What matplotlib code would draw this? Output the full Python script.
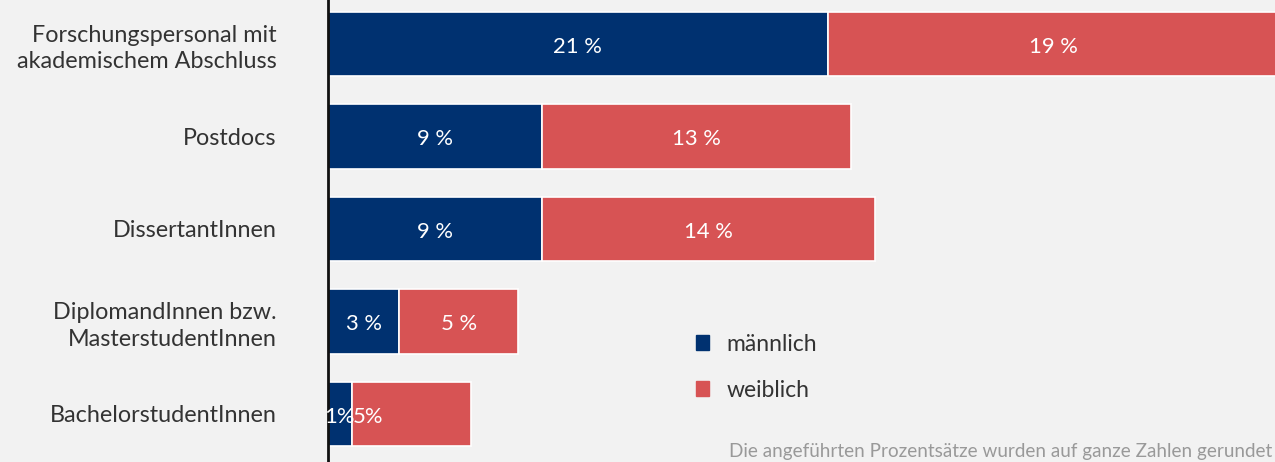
import matplotlib.pyplot as plt
from matplotlib.patches import Patch

# Daten
kategorien = ['Forschungspersonal mit\nakademischem Abschluss', 'Postdocs', 'DissertantInnen',
              'DiplomandInnen bzw.\nMasterstudentInnen', 'BachelorstudentInnen']
maennlich = [21, 9, 9, 3, 1]
weiblich = [19, 13, 14, 5, 5]
label_m = ['21 %', '9 %', '9 %', '3 %', '1%']
label_w = ['19 %', '13 %', '14 %', '5 %', '5%']

blau = '#003170'
rot = '#d75354'
hintergrund = '#f2f2f2'

plt.rcParams['font.family'] = ['Lato', 'DejaVu Sans']

fig = plt.figure(figsize=(12.75, 4.62), dpi=100, facecolor=hintergrund)
ax = fig.add_axes([328 / 1275, 0, 1 - 328 / 1275, 1], facecolor=hintergrund)

y = range(len(kategorien))
ax.barh(y, maennlich, height=0.70, color=blau, edgecolor='white', linewidth=1.2)
ax.barh(y, weiblich, left=maennlich, height=0.70, color=rot, edgecolor='white', linewidth=1.2)

# Prozentwerte in die Balken schreiben
for i in y:
    ax.text(maennlich[i] / 2, i + 0.03, label_m[i], ha='center', va='center', color='white', fontsize=15.8)
    if maennlich[i] < 2:
        ax.text(maennlich[i] + 0.05, i + 0.03, label_w[i], ha='left', va='center', color='white', fontsize=15.8)
    else:
        ax.text(maennlich[i] + weiblich[i] / 2, i + 0.03, label_w[i], ha='center', va='center',
                color='white', fontsize=15.8)

ax.set_xlim(0, 39.8)
ax.set_ylim(4.52, -0.476)
ax.set_yticks(list(y))
ax.set_yticklabels(kategorien, fontsize=16.8, color='#333333', linespacing=1.3)
ax.tick_params(axis='y', length=0, pad=37)
ax.set_xticks([])
for s in ['top', 'right', 'bottom']:
    ax.spines[s].set_visible(False)
ax.spines['left'].set_color('#111111')
ax.spines['left'].set_linewidth(2)

handles = [Patch(color=blau, label='männlich'), Patch(color=rot, label='weiblich')]
fig.legend(handles=handles, loc='upper left', bbox_to_anchor=(675 / 1275, 1 - 313 / 462),
           frameon=False, prop={'size': 16.5}, handlelength=0.6, handleheight=0.6,
           handletextpad=0.75, labelspacing=1.1, labelcolor='#333333')

fig.text(729 / 1275, 1 - 452 / 462, 'Die angeführten Prozentsätze wurden auf ganze Zahlen gerundet',
         fontsize=13.6, color='#999999', ha='left', va='center')

fig.savefig('out.png', dpi=100, facecolor=hintergrund)
